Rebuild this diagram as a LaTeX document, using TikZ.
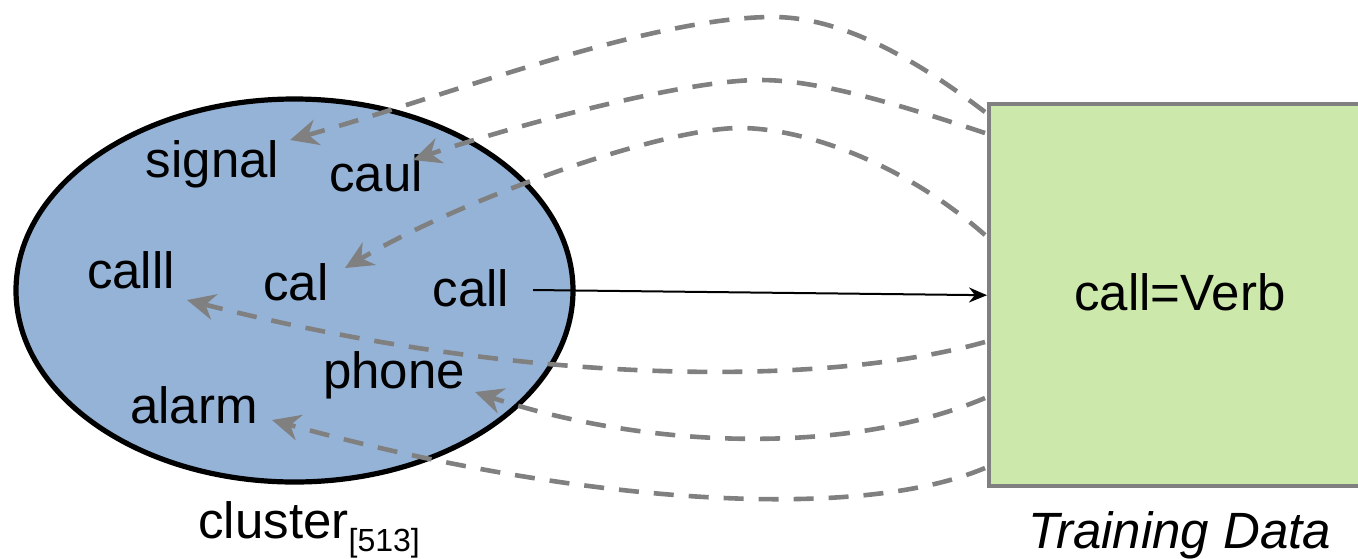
\documentclass[tikz,border=0pt]{standalone}
\usepackage{fontspec}
\setmainfont{Liberation Sans}
\usetikzlibrary{shapes.geometric,arrows.meta}
\definecolor{clusterblue}{RGB}{149,179,215}
\definecolor{datagreen}{RGB}{204,232,171}
\definecolor{linkgray}{RGB}{128,128,128}
\begin{document}
\begin{tikzpicture}[x=0.5pt,y=-0.5pt,
  word/.style={anchor=base,inner sep=0pt,font=\fontsize{25.5}{30}\selectfont},
  link/.style={draw=linkgray,line width=2.3pt,dash pattern=on 10pt off 7.5pt,
    -{Stealth[length=14pt,width=13pt,inset=4.5pt]}},
  assign/.style={draw=black,line width=1pt,-{Stealth[length=9pt,width=7.5pt]}}]
\useasboundingbox (0,0) rectangle (1358,558);

% the word cluster
\node (clus) [ellipse,draw=black,fill=clusterblue,line width=2.6pt,
  minimum width=278.5pt,minimum height=191.5pt,inner sep=0pt] at (294.5,290.5) {};

% training data box (runs past the right edge)
\node (train) [rectangle,draw=linkgray,fill=datagreen,line width=2.2pt,
  minimum width=210pt,minimum height=191pt,inner sep=0pt,anchor=north west] at (987,102) {};

% words in the cluster
\node (signal) [word] at (212.5,177) {signal};
\node (caul)   [word] at (376,191) {caul};
\node (calll)  [word] at (131,288) {calll};
\node (cal)    [word] at (296,300) {cal};
\node (call)   [word] at (471,306) {call};
\node (phone)  [word] at (394,388) {phone};
\node (alarm)  [word] at (194,423) {alarm};

% labels
\node (verb) [word] at (1180,310) {call=Verb};
\node (clusname) [word,anchor=base west] at (198,538)
  {cluster\raisebox{-6.5pt}{\fontsize{16}{18}\selectfont[513]}};
\node (trainname) [word] at (1180,548) {\itshape Training Data};

% link end points
\coordinate (s1) at (985,112);
\coordinate (s2) at (985,133);
\coordinate (s3) at (985,235);
\coordinate (s4) at (985,342);
\coordinate (s5) at (985,398);
\coordinate (s6) at (985,468);
\coordinate (t1) at (290,140);
\coordinate (t2) at (413,160);
\coordinate (t3) at (345,268);
\coordinate (t4) at (187,300);
\coordinate (t5) at (475,392);
\coordinate (t6) at (272,420);
\coordinate (p1) at (773,17);
\coordinate (p2) at (760,80);
\coordinate (p3) at (740,128);

% dashed links from the training data back into the cluster
\draw[link] (s1) .. controls (930,70) and (850,17) .. (p1)
  .. controls (650,17) and (450,95) .. (t1);
\draw[link] (s2) .. controls (900,105) and (820,80) .. (p2)
  .. controls (680,80) and (500,130) .. (t2);
\draw[link] (s3) .. controls (900,160) and (800,128) .. (p3)
  .. controls (660,128) and (460,200) .. (t3);
\draw[link] (s4) .. controls (820,388) and (520,385) .. (t4);
\draw[link] (s5) .. controls (850,455) and (650,450) .. (t5);
\draw[link] (s6) .. controls (850,525) and (560,500) .. (t6);

% the labelled word
\coordinate (c0) at (533,290);
\draw[assign] (c0) -- (train.west);
\end{tikzpicture}
\end{document}
